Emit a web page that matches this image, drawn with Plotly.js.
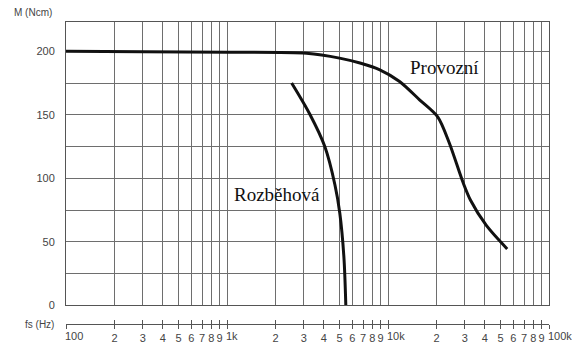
<!DOCTYPE html>
<html>
<head>
<meta charset="utf-8">
<script src="https://cdn.plot.ly/plotly-3.0.1.min.js"></script>
<style>
  html, body { margin: 0; padding: 0; background: #fff; }
  #chart { width: 572px; height: 349px; }
</style>
</head>
<body>
<div id="chart"></div>
<script>
// Torque vs. step frequency: running (Provozní) and start-up (Rozběhová) curves
const provozniHz = [100, 300, 1000, 3120, 5000, 6700, 8900, 11800, 15700, 20400, 24000, 29300, 32500, 40800, 55000];
const provozniNcm = [200, 199.6, 199.2, 198.4, 194.6, 190.7, 185.4, 176.2, 161.8, 148.2, 128, 96.5, 83, 63, 44.5];

const rozbehovaHz = [2520, 3270, 4050, 4680, 5020, 5320, 5470];
const rozbehovaNcm = [175, 150.4, 125, 95, 72.6, 38.4, 0];

// log grid / tick positions along the frequency axis
const xTickVals = [100, 200, 300, 400, 500, 600, 700, 800, 900,
                   1000, 2000, 3000, 4000, 5000, 6000, 7000, 8000, 9000,
                   10000, 20000, 30000, 40000, 50000, 60000, 70000, 80000, 90000, 100000];
const xDigitText = ['', '2', '3', '4', '5', '6', '7', '8', '9',
                    '', '2', '3', '4', '5', '6', '7', '8', '9',
                    '', '2', '3', '4', '5', '6', '7', '8', '9', ''];
const decadeVals = [100, 1000, 10000, 100000];
const decadeText = ['100', '1k', '10k', '100k'];

const yTickVals = [0, 25, 50, 75, 100, 125, 150, 175, 200];
const yTickText = ['0', '', '50', '', '100', '', '150', '', '200'];

const gridColor = '#6e6e6e';
const labelFont = { family: 'Liberation Sans, Arial, sans-serif', size: 11, color: '#444' };
const curveFont = { family: 'Liberation Serif, Times New Roman, serif', size: 19, color: '#111' };

const traces = [
  { x: provozniHz, y: provozniNcm, mode: 'lines', line: { color: '#111', width: 3, shape: 'spline', smoothing: 0.8 }, hoverinfo: 'skip' },
  { x: rozbehovaHz, y: rozbehovaNcm, mode: 'lines', line: { color: '#111', width: 3, shape: 'spline', smoothing: 0.9 }, hoverinfo: 'skip' },
  { x: [100, 100000], y: [null, null], xaxis: 'x2', yaxis: 'y', mode: 'lines', hoverinfo: 'skip' },
  { x: [100, 100000], y: [null, null], xaxis: 'x3', yaxis: 'y', mode: 'lines', hoverinfo: 'skip' }
];

const freqAxisBase = {
  type: 'log', range: [2, 5], overlaying: 'x', anchor: 'free', position: 0, side: 'bottom',
  showline: true, linecolor: '#555', linewidth: 1, showgrid: false, zeroline: false,
  tickmode: 'array', tickvals: xTickVals, ticklen: 4, tickcolor: '#555', tickwidth: 1
};

const annotations = [
  { text: 'M (Ncm)', xref: 'paper', yref: 'paper', x: -0.112, y: 1.0, xanchor: 'left', yanchor: 'bottom', yshift: 2,
    showarrow: false, font: { family: 'Liberation Sans, Arial, sans-serif', size: 10, color: '#444' } },
  { text: 'fs (Hz)', xref: 'paper', yref: 'paper', x: 0, y: 0, xanchor: 'right', yanchor: 'middle', xshift: -10,
    showarrow: false, font: { family: 'Liberation Sans, Arial, sans-serif', size: 10, color: '#444' } },
  { text: 'Provozní', xref: 'x', yref: 'y', x: Math.log10(22500), y: 187, showarrow: false, font: curveFont },
  { text: 'Rozběhová', xref: 'x', yref: 'y', x: Math.log10(2030), y: 87, showarrow: false, font: curveFont }
];
decadeVals.forEach((v, i) => {
  annotations.push({
    text: decadeText[i], xref: 'x', yref: 'paper', x: Math.log10(v), y: 0,
    xanchor: 'left', yanchor: 'top', xshift: -3, yshift: -4,
    showarrow: false, font: labelFont
  });
});

const layout = {
  width: 572, height: 349,
  margin: { l: 66, r: 23, t: 22, b: 25 },
  paper_bgcolor: '#fff', plot_bgcolor: '#fff',
  showlegend: false,
  xaxis: {
    type: 'log', range: [2, 5], anchor: 'y',
    tickmode: 'array', tickvals: xTickVals, showticklabels: false, ticks: '',
    showgrid: true, gridcolor: gridColor, gridwidth: 1,
    showline: true, mirror: true, linecolor: '#555', linewidth: 1, zeroline: false
  },
  xaxis2: Object.assign({}, freqAxisBase, {
    ticks: 'outside', ticktext: xDigitText, tickfont: labelFont, showticklabels: true
  }),
  xaxis3: Object.assign({}, freqAxisBase, {
    ticks: 'inside', showticklabels: false
  }),
  yaxis: {
    range: [0, 223], domain: [0.0613, 1],
    tickmode: 'array', tickvals: yTickVals, ticktext: yTickText, tickfont: labelFont,
    ticks: '', ticklabelstandoff: 8,
    showgrid: true, gridcolor: gridColor, gridwidth: 1,
    showline: true, mirror: true, linecolor: '#555', linewidth: 1, zeroline: false
  },
  annotations: annotations
};

Plotly.newPlot('chart', traces, layout, { staticPlot: true, displayModeBar: false });
</script>
</body>
</html>
